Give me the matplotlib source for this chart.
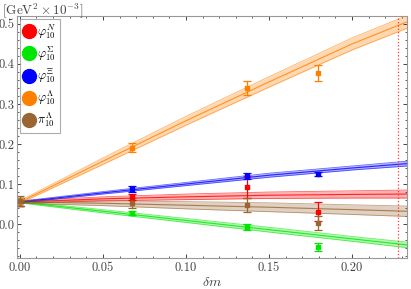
import numpy as np
import matplotlib
matplotlib.use('Agg')
import matplotlib.pyplot as plt
from matplotlib.ticker import MultipleLocator
from matplotlib.lines import Line2D

plt.rcParams['font.family'] = 'serif'
plt.rcParams['font.serif'] = ['cmr10']
plt.rcParams['mathtext.fontset'] = 'cm'
plt.rcParams['axes.formatter.use_mathtext'] = True

# fit bands (center, half width) at these dm values
band_x = [0.0, 0.05, 0.10, 0.15, 0.20, 0.233]
bands = {
    'N':      ([0.055, 0.063, 0.068, 0.072, 0.074, 0.075], [0.003, 0.005, 0.007, 0.008, 0.009, 0.010]),
    'Sigma':  ([0.055, 0.032, 0.009, -0.014, -0.037, -0.052], [0.002, 0.004, 0.005, 0.006, 0.006, 0.007]),
    'Xi':     ([0.055, 0.078, 0.100, 0.122, 0.140, 0.151], [0.002, 0.003, 0.004, 0.005, 0.005, 0.006]),
    'Lambda': ([0.055, 0.157, 0.258, 0.355, 0.450, 0.505], [0.003, 0.008, 0.011, 0.013, 0.015, 0.016]),
    'piL':    ([0.055, 0.052, 0.047, 0.042, 0.036, 0.032], [0.003, 0.006, 0.009, 0.011, 0.012, 0.013]),
}

# lattice points
pts_x = [0.0, 0.0673, 0.1365, 0.1796]
pts = {
    'N':      ([0.056, 0.0675, 0.092, 0.031], [0.010, 0.007, 0.028, 0.024]),
    'Sigma':  ([0.056, 0.0275, -0.0075, -0.0575], [0.010, 0.005, 0.007, 0.010]),
    'Xi':     ([0.056, 0.088, 0.120, 0.125], [0.010, 0.008, 0.007, 0.006]),
    'Lambda': ([0.056, 0.191, 0.340, 0.378], [0.010, 0.011, 0.018, 0.020]),
    'piL':    ([0.057, 0.052, 0.0475, 0.0025], [0.012, 0.012, 0.017, 0.018]),
}

colors = {'N': '#ff0000', 'Sigma': '#00e600', 'Xi': '#0000ff',
          'Lambda': '#ff8000', 'piL': '#996633'}
labels = {'N': r'$\varphi_{10}^{N}$', 'Sigma': r'$\varphi_{10}^{\Sigma}$',
          'Xi': r'$\varphi_{10}^{\Xi}$', 'Lambda': r'$\varphi_{10}^{\Lambda}$',
          'piL': r'$\pi_{10}^{\Lambda}$'}
order = ['N', 'Sigma', 'Xi', 'Lambda', 'piL']
dm_phys = 0.2276

fig = plt.figure(figsize=(4.11, 2.89), dpi=100)
ax = fig.add_axes([0.041, 0.107, 0.949, 0.838])

bx = np.array(band_x)
for k in order:
    c, w = np.array(bands[k][0]), np.array(bands[k][1])
    col = colors[k]
    ax.fill_between(bx, c - w, c + w, color=col, alpha=0.3, lw=0)
    ax.plot(bx, c, color=col, lw=0.8, alpha=0.8)
    ax.plot(bx, c - w, color=col, lw=0.6, alpha=0.6)
    ax.plot(bx, c + w, color=col, lw=0.6, alpha=0.6)

for k in order:
    y, e = pts[k]
    ax.errorbar(pts_x, y, yerr=e, fmt='s', ms=3, color=colors[k],
                elinewidth=0.9, capsize=3, capthick=0.9)

ax.axvline(dm_phys, color='#ff3333', ls=':', lw=0.9)

ax.set_xlim(-0.0018, 0.233)
ax.set_ylim(-0.085, 0.52)
ax.xaxis.set_minor_locator(MultipleLocator(0.01))
ax.yaxis.set_minor_locator(MultipleLocator(0.02))
ax.set_xticks([0.0, 0.05, 0.10, 0.15, 0.20])
ax.set_xticklabels(['0.00', '0.05', '0.10', '0.15', '0.20'])
ax.set_yticks([0.0, 0.1, 0.2, 0.3, 0.4, 0.5])
ax.set_yticklabels(['0.0', '0.1', '0.2', '0.3', '0.4', '0.5'])
ax.tick_params(which='both', direction='in', top=True, right=True,
               labelsize=9, color='#444444', labelcolor='#444444')
ax.tick_params(axis='y', pad=1.5)
ax.tick_params(axis='x', pad=3)
ax.tick_params(which='major', length=3, width=0.7)
ax.tick_params(which='minor', length=1.5, width=0.6)
for s in ax.spines.values():
    s.set_color('#999999')
    s.set_linewidth(0.8)

ax.set_xlabel(r'$\delta m$', fontsize=10, color='#444444', labelpad=1)
fig.text(0.005, 0.995, r'[GeV$^2 \times 10^{-3}$]', ha='left', va='top',
         fontsize=9.5, color='#444444')

handles = [Line2D([], [], ls='', marker='o', ms=10, color=colors[k]) for k in order]
leg = ax.legend(handles, [labels[k] for k in order], loc='upper left',
                fontsize=9, frameon=True, fancybox=False, handlelength=0.8,
                handletextpad=0.3, labelspacing=0.3, borderpad=0.3,
                borderaxespad=0.25)
leg.get_frame().set_edgecolor('#999999')
leg.get_frame().set_linewidth(0.8)

fig.savefig('out.png', dpi=100)
